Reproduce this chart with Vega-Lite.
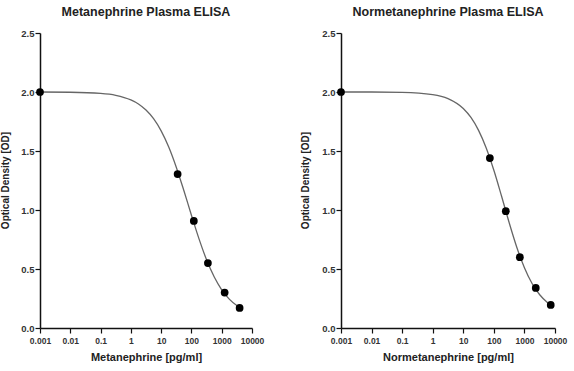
{
  "$schema": "https://vega.github.io/schema/vega-lite/v6.json",
  "padding": {"left": 0, "top": 5, "right": 5, "bottom": 5},
  "background": "white",
  "spacing": 89,
  "bounds": "flush",
  "config": {
    "font": "Liberation Sans",
    "view": {"stroke": null},
    "title": {"fontSize": 12.5, "fontWeight": "bold", "color": "#222", "offset": 10},
    "axis": {
      "grid": false,
      "domainColor": "#111",
      "domainWidth": 1.5,
      "tickColor": "#111",
      "tickWidth": 1.2,
      "tickSize": 5,
      "labelColor": "#333",
      "labelFont": "Liberation Sans",
      "labelFontWeight": "bold",
      "labelOverlap": false,
      "labelFlush": false,
      "titleFont": "Liberation Sans",
      "titleFontWeight": "bold",
      "titleColor": "#222"
    }
  },
  "datasets": {
    "met_points": [
      {"conc": 0.001, "od": 2.0},
      {"conc": 35, "od": 1.305},
      {"conc": 120, "od": 0.907},
      {"conc": 350, "od": 0.55},
      {"conc": 1250, "od": 0.30},
      {"conc": 3900, "od": 0.17}
    ],
    "met_curve": [
      {"conc": 0.001, "od": 2.0},
      {"conc": 0.01, "od": 1.998},
      {"conc": 0.1, "od": 1.988},
      {"conc": 0.316, "od": 1.972},
      {"conc": 1, "od": 1.933},
      {"conc": 1.78, "od": 1.899},
      {"conc": 3.16, "od": 1.847},
      {"conc": 5.62, "od": 1.774},
      {"conc": 10, "od": 1.671},
      {"conc": 17.8, "od": 1.534},
      {"conc": 31.6, "od": 1.363},
      {"conc": 56.2, "od": 1.165},
      {"conc": 100, "od": 0.956},
      {"conc": 178, "od": 0.755},
      {"conc": 316, "od": 0.578},
      {"conc": 562, "od": 0.434},
      {"conc": 1000, "od": 0.324},
      {"conc": 1778, "od": 0.245},
      {"conc": 3162, "od": 0.19},
      {"conc": 3900, "od": 0.175}
    ],
    "norm_points": [
      {"conc": 0.001, "od": 2.0},
      {"conc": 74, "od": 1.44},
      {"conc": 246, "od": 0.99},
      {"conc": 708, "od": 0.60},
      {"conc": 2350, "od": 0.34},
      {"conc": 7250, "od": 0.195}
    ],
    "norm_curve": [
      {"conc": 0.001, "od": 2.0},
      {"conc": 0.01, "od": 2.0},
      {"conc": 0.1, "od": 1.997},
      {"conc": 1, "od": 1.978},
      {"conc": 3.16, "od": 1.944},
      {"conc": 10, "od": 1.86},
      {"conc": 17.8, "od": 1.784},
      {"conc": 31.6, "od": 1.675},
      {"conc": 56.2, "od": 1.526},
      {"conc": 100, "od": 1.337},
      {"conc": 178, "od": 1.119},
      {"conc": 316, "od": 0.894},
      {"conc": 562, "od": 0.685},
      {"conc": 1000, "od": 0.511},
      {"conc": 1778, "od": 0.377},
      {"conc": 3162, "od": 0.282},
      {"conc": 5623, "od": 0.217},
      {"conc": 7250, "od": 0.196}
    ]
  },
  "hconcat": [
    {
      "width": 212,
      "height": 295,
      "title": "Metanephrine Plasma ELISA",
      "layer": [
        {
          "data": {"name": "met_curve"},
          "mark": {"type": "line", "color": "#666", "strokeWidth": 1.3, "interpolate": "monotone"},
          "encoding": {
            "x": {"field": "conc", "type": "quantitative", "scale": {"type": "log", "domain": [0.001, 10000], "nice": false},
              "axis": {"values": [0.001, 0.01, 0.1, 1, 10, 100, 1000, 10000], "format": "~g", "labelFontSize": 8.5, "labelPadding": 3, "title": "Metanephrine [pg/ml]", "titleFontSize": 11, "titleBaseline": "middle", "titleY": 29}},
            "y": {"field": "od", "type": "quantitative", "scale": {"domain": [0, 2.5], "nice": false},
              "axis": {"values": [0, 0.5, 1, 1.5, 2, 2.5], "format": ".1f", "labelFontSize": 9.5, "labelPadding": 1, "title": "Optical Density [OD]", "titleFontSize": 10, "titleBaseline": "middle", "titleX": -35, "titleY": 147}}
          }
        },
        {
          "data": {"name": "met_points"},
          "mark": {"type": "circle", "color": "#000", "opacity": 1, "size": 60},
          "encoding": {
            "x": {"field": "conc", "type": "quantitative"},
            "y": {"field": "od", "type": "quantitative"}
          }
        }
      ]
    },
    {
      "width": 214,
      "height": 295,
      "title": "Normetanephrine Plasma ELISA",
      "layer": [
        {
          "data": {"name": "norm_curve"},
          "mark": {"type": "line", "color": "#666", "strokeWidth": 1.3, "interpolate": "monotone"},
          "encoding": {
            "x": {"field": "conc", "type": "quantitative", "scale": {"type": "log", "domain": [0.001, 10000], "nice": false},
              "axis": {"values": [0.001, 0.01, 0.1, 1, 10, 100, 1000, 10000], "format": "~g", "labelFontSize": 8.5, "labelPadding": 3, "title": "Normetanephrine [pg/ml]", "titleFontSize": 11, "titleBaseline": "middle", "titleY": 29}},
            "y": {"field": "od", "type": "quantitative", "scale": {"domain": [0, 2.5], "nice": false},
              "axis": {"values": [0, 0.5, 1, 1.5, 2, 2.5], "format": ".1f", "labelFontSize": 9.5, "labelPadding": 1, "title": "Optical Density [OD]", "titleFontSize": 10, "titleBaseline": "middle", "titleX": -36, "titleY": 147}}
          }
        },
        {
          "data": {"name": "norm_points"},
          "mark": {"type": "circle", "color": "#000", "opacity": 1, "size": 60},
          "encoding": {
            "x": {"field": "conc", "type": "quantitative"},
            "y": {"field": "od", "type": "quantitative"}
          }
        }
      ]
    }
  ]
}
